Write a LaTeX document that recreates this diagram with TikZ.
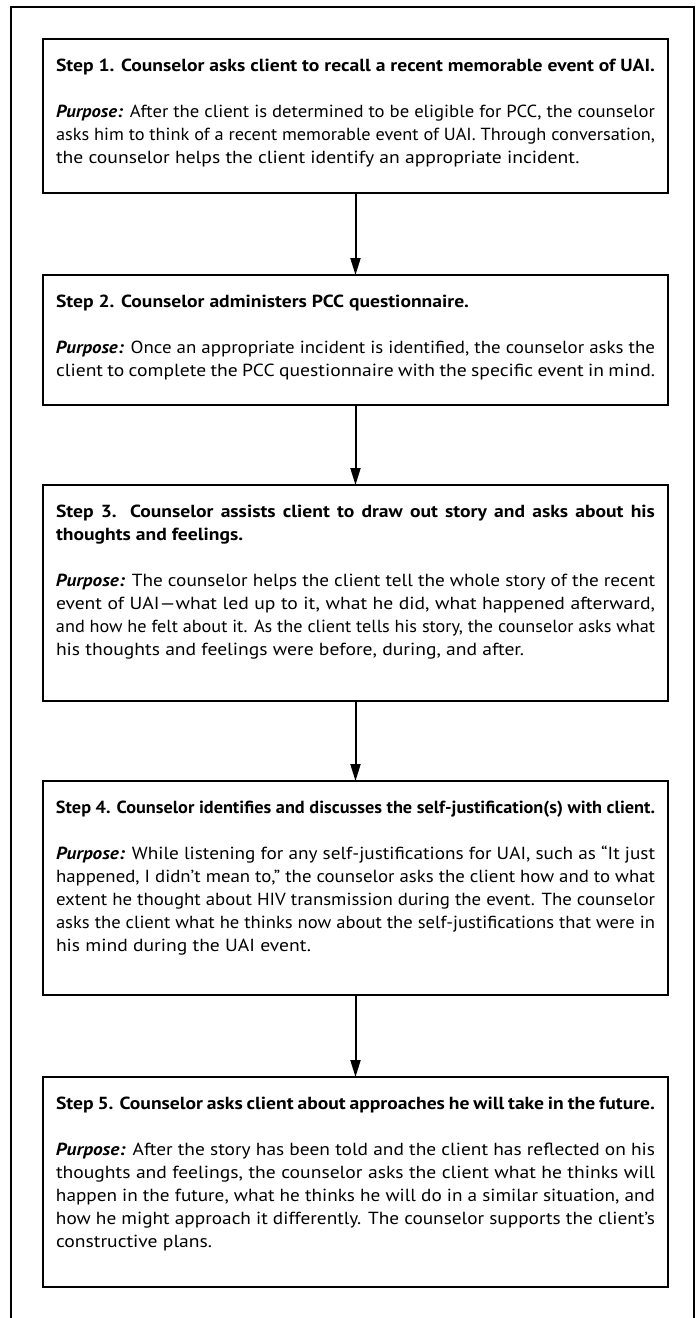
\documentclass[tikz,border=0pt]{standalone}
\usepackage{fontspec}
\usepackage{graphicx}
\setmainfont{PT Sans}[FakeStretch=1.12]
\usetikzlibrary{arrows.meta}
\newsavebox\linebx
\newcommand{\fl}[1]{\sbox\linebx{#1}\ifdim\wd\linebx>\linewidth\resizebox{\linewidth}{\height}{\usebox\linebx}\else\makebox[\linewidth][s]{#1}\fi}
\newcommand{\pp}{\textbf{\textit{Purpose:}}}
\newcommand{\boxtext}[2]{\parbox[c][#1][t]{599pt}{\vspace*{16pt}\strut#2}}
\tikzset{
  frame/.style={draw, line width=2.4pt},
  stepbox/.style={draw, line width=2.6pt, inner xsep=13pt, inner ysep=0pt, outer sep=0pt, anchor=north, font=\fontsize{17.5}{23}\selectfont},
  flowarrow/.style={line width=2pt, -{Triangle[length=17pt,width=10pt]}},
}
\begin{document}
\begin{tikzpicture}[x=1pt,y=-1pt]
\useasboundingbox (0,0) rectangle (700,1318);
\draw[frame] (11,7) rectangle (694,1340);

\node[stepbox] (b1) at (355.5,39) {\boxtext{154pt}{%
\textbf{Step 1. Counselor asks client to recall a recent memorable event of UAI.}\\[23pt]
\fl{\pp{} After the client is determined to be eligible for PCC, the counselor}\\
\fl{asks him to think of a recent memorable event of UAI. Through conversation,}\\
the counselor helps the client identify an appropriate incident.}};

\node[stepbox] (b2) at (355.5,275) {\boxtext{130pt}{%
\textbf{Step 2. Counselor administers PCC questionnaire.}\\[23pt]
\fl{\pp{} Once an appropriate incident is identified, the counselor asks the}\\
client to complete the PCC questionnaire with the specific event in mind.}};

\node[stepbox] (b3) at (355.5,485) {\boxtext{216pt}{%
\fl{\textbf{Step 3. Counselor assists client to draw out story and asks about his}}\\
\textbf{thoughts and feelings.}\\[23pt]
\fl{\pp{} The counselor helps the client tell the whole story of the recent}\\
\fl{event of UAI—what led up to it, what he did, what happened afterward,}\\
\fl{and how he felt about it. As the client tells his story, the counselor asks what}\\
his thoughts and feelings were before, during, and after.}};

\node[stepbox] (b4) at (355.5,781) {\boxtext{214pt}{%
\fl{\textbf{Step 4. Counselor identifies and discusses the self-justification(s) with client.}}\\[23pt]
\fl{\pp{} While listening for any self-justifications for UAI, such as “It just}\\
\fl{happened, I didn’t mean to,” the counselor asks the client how and to what}\\
\fl{extent he thought about HIV transmission during the event. The counselor}\\
\fl{asks the client what he thinks now about the self-justifications that were in}\\
his mind during the UAI event.}};

\node[stepbox] (b5) at (355.5,1077) {\boxtext{210pt}{%
\textbf{Step 5. Counselor asks client about approaches he will take in the future.}\\[23pt]
\fl{\pp{} After the story has been told and the client has reflected on his}\\
\fl{thoughts and feelings, the counselor asks the client what he thinks will}\\
\fl{happen in the future, what he thinks he will do in a similar situation, and}\\
\fl{how he might approach it differently. The counselor supports the client’s}\\
constructive plans.}};

\draw[flowarrow] (b1) -- (b2);
\draw[flowarrow] (b2) -- (b3);
\draw[flowarrow] (b3) -- (b4);
\draw[flowarrow] (b4) -- (b5);
\end{tikzpicture}
\end{document}
